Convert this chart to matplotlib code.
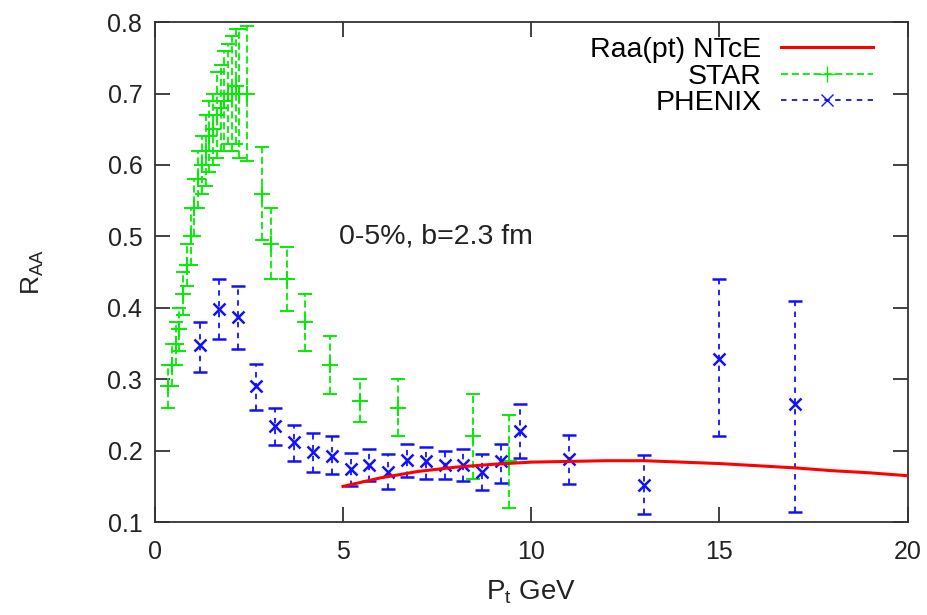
import matplotlib.pyplot as plt
from matplotlib.lines import Line2D
import numpy as np

plt.rcParams['font.family'] = ['Liberation Sans', 'DejaVu Sans']

# Raa(pt) NTcE curve
pt_th = [5, 6, 7, 8, 9, 10, 11, 12, 13, 14, 15, 16, 17, 18, 19, 20]
raa_th = [0.150, 0.162, 0.171, 0.177, 0.181, 0.184, 0.185, 0.186, 0.186,
          0.184, 0.182, 0.179, 0.176, 0.172, 0.169, 0.165]

# STAR
pt_star = [0.35, 0.45, 0.55, 0.65, 0.75, 0.85, 0.95, 1.05, 1.15, 1.25, 1.35,
           1.45, 1.55, 1.65, 1.75, 1.85, 1.95, 2.05, 2.15, 2.25, 2.45,
           2.85, 3.1, 3.5, 4.0, 4.65, 5.45, 6.45, 8.45, 9.4]
raa_star = [0.29, 0.32, 0.35, 0.37, 0.42, 0.46, 0.50, 0.54, 0.58, 0.60, 0.62,
            0.64, 0.65, 0.67, 0.68, 0.69, 0.70, 0.70, 0.71, 0.70, 0.70,
            0.56, 0.49, 0.44, 0.38, 0.32, 0.27, 0.26, 0.22, 0.185]
err_star = [0.03, 0.03, 0.03, 0.03, 0.03, 0.03, 0.04, 0.04, 0.04, 0.04, 0.05,
            0.05, 0.05, 0.06, 0.06, 0.07, 0.07, 0.08, 0.08, 0.09, 0.095,
            0.065, 0.05, 0.045, 0.04, 0.04, 0.03, 0.04, 0.06, 0.065]

# PHENIX
pt_phx = [1.2, 1.7, 2.2, 2.7, 3.2, 3.7, 4.2, 4.7, 5.2, 5.7, 6.2, 6.7, 7.2,
          7.7, 8.2, 8.7, 9.2, 9.7, 11.0, 13.0, 15.0, 17.0]
raa_phx = [0.348, 0.398, 0.387, 0.290, 0.234, 0.212, 0.198, 0.193, 0.174,
           0.180, 0.170, 0.187, 0.185, 0.180, 0.180, 0.170, 0.185, 0.227,
           0.189, 0.152, 0.329, 0.265]
lo_phx = [0.038, 0.042, 0.044, 0.033, 0.026, 0.027, 0.028, 0.025, 0.024,
          0.023, 0.023, 0.024, 0.025, 0.020, 0.022, 0.025, 0.030, 0.037,
          0.035, 0.041, 0.109, 0.151]
hi_phx = [0.032, 0.042, 0.043, 0.032, 0.026, 0.024, 0.027, 0.027, 0.023,
          0.023, 0.026, 0.023, 0.020, 0.020, 0.022, 0.025, 0.025, 0.038,
          0.033, 0.042, 0.111, 0.145]

red = '#ff0000'
green = '#00ee00'
blue = '#1010ff'
ink = '#222222'

fig = plt.figure(figsize=(9.27, 6.15), dpi=100)
ax = fig.add_axes([0.167, 0.151, 0.812, 0.813])

ax.plot(pt_th, raa_th, color=red, lw=2.2, zorder=4)

eb = ax.errorbar(pt_star, raa_star, yerr=err_star, fmt='+', color=green,
                 ms=12, mew=1.4, elinewidth=1.3, capsize=5, capthick=1.3,
                 zorder=3)
eb[2][0].set_linestyle((0, (4, 2)))

eb = ax.errorbar(pt_phx, raa_phx, yerr=[lo_phx, hi_phx], fmt='x', color=blue,
                 ms=9, mew=1.8, elinewidth=1.3, capsize=5, capthick=1.3,
                 zorder=3)
eb[2][0].set_linestyle((0, (3, 3)))

ax.text(4.9, 0.5, '0-5%, b=2.3 fm', fontsize=20.5, va='center', color=ink)

ax.set_xlim(0, 20)
ax.set_ylim(0.1, 0.8)
ax.set_xticks([0, 5, 10, 15, 20])
ax.set_yticks(np.arange(0.1, 0.81, 0.1))
ax.yaxis.set_major_formatter(plt.FormatStrFormatter('%.1f'))
ax.tick_params(direction='in', length=11, width=1.3, top=True, right=True,
               labelsize=18, color='#333333', labelcolor=ink)
ax.tick_params(axis='x', pad=13)
ax.tick_params(axis='y', pad=9)
for s in ax.spines.values():
    s.set_linewidth(1.3)
    s.set_color('#333333')

ax.set_xlabel(r'P$_\mathregular{t}$ GeV', fontsize=20, color=ink,
              labelpad=10)
ax.set_ylabel(r'R$_\mathregular{AA}$', fontsize=19, color=ink,
              labelpad=44)

handles = [
    Line2D([], [], color=red, lw=2.2),
    Line2D([], [], color=green, ls=(0, (4, 2)), lw=1.3, marker='+', ms=12),
    Line2D([], [], color=blue, ls=(0, (3, 3)), lw=1.3, marker='x', ms=8),
]
ax.legend(handles, ['Raa(pt) NTcE', 'STAR', 'PHENIX'], loc='upper right',
          bbox_to_anchor=(0.9535, 0.97), frameon=False, markerfirst=False,
          fontsize=20.5, handlelength=3.2, labelspacing=0.02,
          borderaxespad=0, borderpad=0, handletextpad=0.7)

fig.savefig('out.png', dpi=100)
